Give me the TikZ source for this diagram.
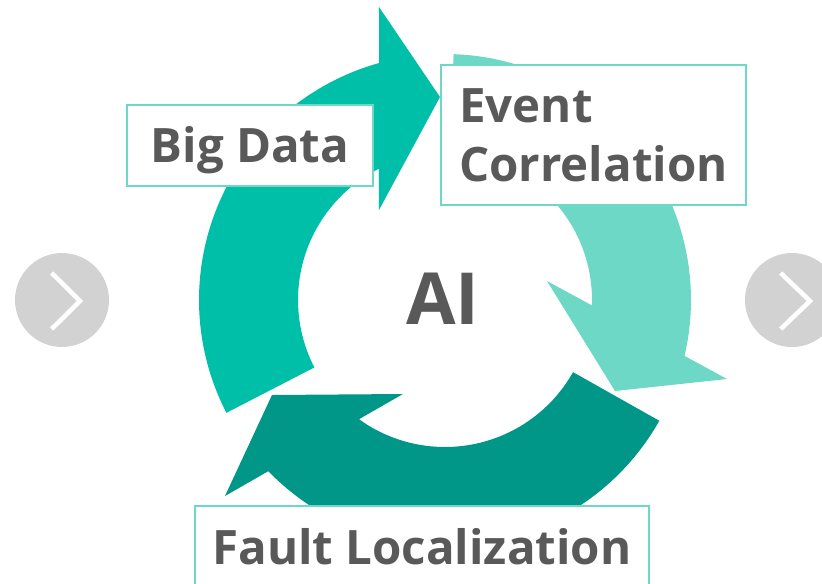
\documentclass[tikz,border=0pt]{standalone}
\usepackage{fontspec}
\setmainfont{Open Sans}
\definecolor{tealA}{HTML}{00BFA8}
\definecolor{tealB}{HTML}{6CD8C5}
\definecolor{tealC}{HTML}{009688}
\definecolor{txtgray}{HTML}{595959}
\definecolor{navgray}{HTML}{D2D2D2}
\begin{document}
\begin{tikzpicture}[x=0.02cm,y=0.02cm,
  labelbox/.style={draw=tealB, line width=1.4pt, fill=white, inner sep=0pt,
    text=txtgray, font=\fontsize{27}{34}\selectfont\bfseries,
    text height=19.3pt, text depth=0pt},
  navbtn/.style={circle, fill=navgray, minimum size=1.88cm, inner sep=0pt},
  chevron/.style={draw=white, line width=2.6pt, miter limit=10}]
\useasboundingbox (-445,-283) rectangle (377,300);

% cycle of three curved arrows around the centre
\fill[tealA] (207.3:246) arc[start angle=207.3,end angle=105.56,radius=246]
  -- (-66,293) -- (-5,203) -- (-66,90)
  -- (116.68:147) arc[start angle=116.68,end angle=207.3,radius=147] -- cycle;
\fill[tealB] (88:246) arc[start angle=88,end angle=-13.13,radius=246]
  -- (282,-79) -- (170,-91) -- (102,19)
  -- (-2.1:147) arc[start angle=-2.1,end angle=88,radius=147] -- cycle;
\fill[tealC] (-29.4:246) arc[start angle=-29.4,end angle=-135.91,radius=246]
  -- (-220,-196) -- (-173,-95) -- (-42,-94)
  -- (-125.81:147) arc[start angle=-125.81,end angle=-29.4,radius=147] -- cycle;

% centre label
\node[text=txtgray, font=\fontsize{40.9}{48}\selectfont\bfseries, inner sep=0pt,
  text height=29.2pt, text depth=0pt] (ai) at (-2,1.6) {AI};

% step labels
\node[labelbox, minimum width=4.92cm, minimum height=1.62cm] (bigdata) at (-195,154.5) {Big Data};
\node[labelbox, minimum width=6.1cm, minimum height=2.8cm, align=left,
  text height=53.3pt] (event) at (148.5,165) {Event\\Correlation};
\node[labelbox, minimum width=9.08cm, minimum height=1.66cm] (fault) at (-23,-247.5) {Fault Localization};

% navigation buttons
\node[navbtn] (prev) at (-383,0) {};
\draw[chevron] ([shift={(-10.3,27)}]prev.center) -- ([shift={(18,-1)}]prev.center) -- ([shift={(-10.3,-29)}]prev.center);
\node[navbtn] (next) at (347,0) {};
\draw[chevron] ([shift={(-11.3,27)}]next.center) -- ([shift={(18,-1)}]next.center) -- ([shift={(-11.3,-29)}]next.center);
\end{tikzpicture}
\end{document}
